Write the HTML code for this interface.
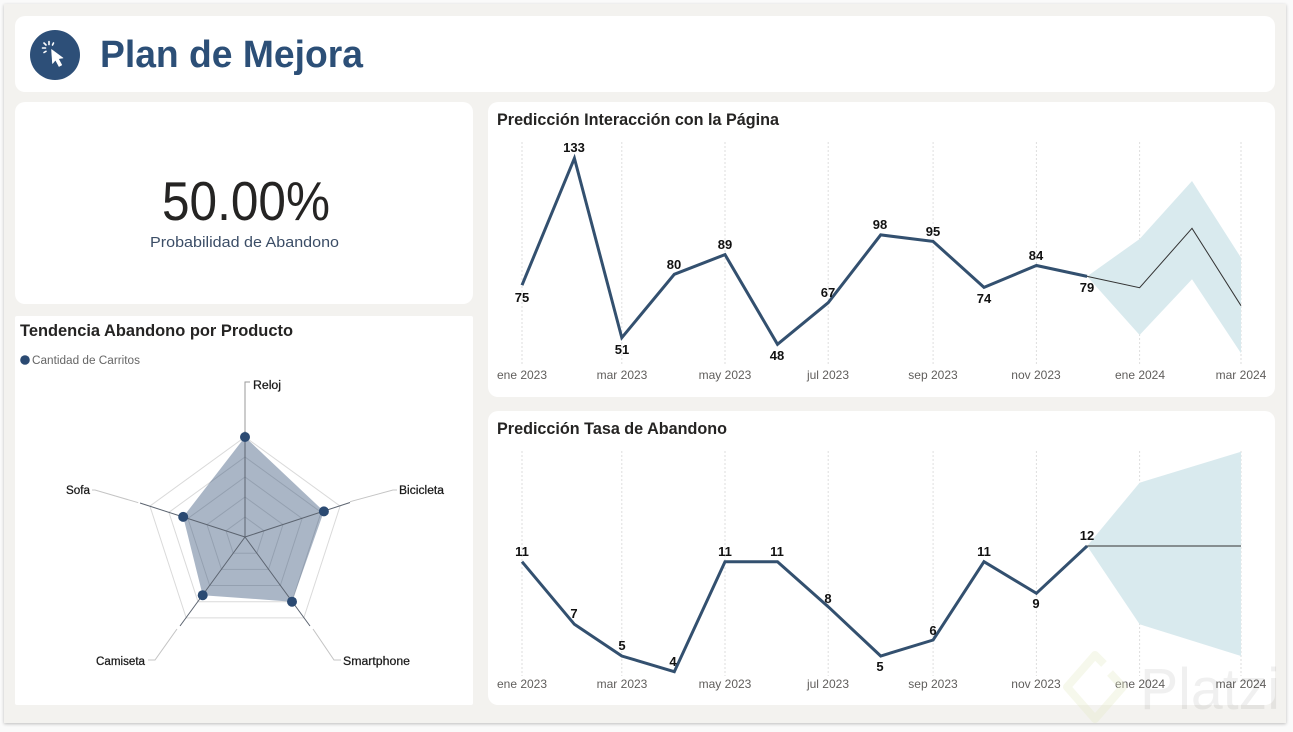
<!DOCTYPE html>
<html>
<head>
<meta charset="utf-8">
<style>
  html,body{margin:0;padding:0;background:#fafafa;}
  svg{display:block;}
  text{font-family:"Liberation Sans",sans-serif;}
</style>
</head>
<body>
<svg width="1293" height="732" viewBox="0 0 1293 732" xmlns="http://www.w3.org/2000/svg">
  <defs>
    <filter id="sh" x="-2%" y="-2%" width="104%" height="104%">
      <feGaussianBlur in="SourceAlpha" stdDeviation="1.5"/>
      <feOffset dx="0" dy="1"/>
      <feComponentTransfer><feFuncA type="linear" slope="0.25"/></feComponentTransfer>
      <feMerge><feMergeNode/><feMergeNode in="SourceGraphic"/></feMerge>
    </filter>
  </defs>
  <rect x="0" y="0" width="1293" height="732" fill="#fafafa"/>
  <!-- outer frame -->
  <rect x="4" y="4" width="1282" height="719" fill="#f3f2ef" filter="url(#sh)"/>

  <!-- header card -->
  <rect x="15" y="16" width="1260" height="76" rx="10" fill="#ffffff"/>
  <circle cx="55" cy="55" r="25" fill="#2d4f78"/>
  <!-- cursor icon -->
  <g fill="#ffffff" stroke="#ffffff">
    <path d="M51.5,49.5 L52.5,63.5 L55.5,60 L59,66.5 L61.8,65 L58.4,58.7 L63,58 Z" stroke-width="0.6" stroke-linejoin="round"/>
    <g stroke-width="1.6" stroke-linecap="round" fill="none">
      <line x1="49" y1="41.5" x2="49" y2="44.5"/>
      <line x1="42.5" y1="48" x2="45.5" y2="48"/>
      <line x1="44" y1="43" x2="46" y2="45"/>
      <line x1="53.5" y1="43" x2="52.5" y2="45"/>
      <line x1="44" y1="52.5" x2="46" y2="51.3"/>
    </g>
  </g>
  <text x="100" y="67" font-size="38" font-weight="bold" fill="#2c4f77" textLength="263" lengthAdjust="spacingAndGlyphs">Plan de Mejora</text>

  <!-- KPI card -->
  <rect x="15" y="102" width="458" height="202" rx="10" fill="#ffffff"/>
  <text x="162" y="220" font-size="55" fill="#252423" textLength="168" lengthAdjust="spacingAndGlyphs" style="font-family:'Liberation Sans Narrow','Liberation Sans',sans-serif">50.00%</text>
  <text x="150" y="247" font-size="15" fill="#3b4d66" textLength="189" lengthAdjust="spacingAndGlyphs">Probabilidad de Abandono</text>

  <!-- Radar card -->
  <rect x="15" y="316" width="458" height="389" rx="2" fill="#ffffff"/>
  <text x="20" y="336" font-size="17" font-weight="bold" fill="#252423" textLength="273" lengthAdjust="spacingAndGlyphs">Tendencia Abandono por Producto</text>
  <circle cx="25" cy="360" r="4.8" fill="#2b4a72"/>
  <text x="32" y="364" font-size="11.5" fill="#666666" textLength="108" lengthAdjust="spacingAndGlyphs">Cantidad de Carritos</text>

  <!-- radar grid rings (r=20..100) -->
  <g fill="none" stroke="#dadada" stroke-width="1">
    <polygon points="245,437 340.1,506.1 303.8,617.9 186.2,617.9 149.9,506.1"/>
    <polygon points="245,457 321.1,512.3 292.0,601.7 198.0,601.7 168.9,512.3"/>
    <polygon points="245,477 302.1,518.5 280.3,585.5 209.7,585.5 187.9,518.5"/>
    <polygon points="245,497 283.0,524.6 268.5,569.4 221.5,569.4 207.0,524.6"/>
    <polygon points="245,517 264.0,530.8 256.8,553.2 233.2,553.2 226.0,530.8"/>
  </g>
  <!-- connectors -->
  <g fill="none" stroke="#c4c4c4" stroke-width="1">
    <polyline points="350,501.7 393,490 397,490"/>
    <polyline points="138.3,502.7 95,490 92,490"/>
    <polyline points="177,629 155,660 148,660"/>
    <polyline points="313,629 334,660 341,660"/>
  </g>
  <polyline points="245,431 245,382 250,382" fill="none" stroke="#9a9a9a" stroke-width="1"/>
  <!-- data fill -->
  <polygon points="245,437 323.9,511.4 292.0,601.7 202.7,595.2 183.2,516.9" fill="#345078" fill-opacity="0.42"/>
  <!-- axes -->
  <g stroke="#5c6470" stroke-width="1">
    <line x1="245" y1="537" x2="245" y2="431"/>
    <line x1="245" y1="537" x2="350" y2="502.5"/>
    <line x1="245" y1="537" x2="310" y2="626"/>
    <line x1="245" y1="537" x2="180" y2="626"/>
    <line x1="245" y1="537" x2="140" y2="503"/>
  </g>
  <g fill="#2b4a72">
    <circle cx="245" cy="437" r="5"/>
    <circle cx="323.9" cy="511.4" r="5"/>
    <circle cx="292" cy="601.7" r="5"/>
    <circle cx="202.7" cy="595.2" r="5"/>
    <circle cx="183.2" cy="516.9" r="5"/>
  </g>
  <g font-size="11.5" fill="#1a1a1a" stroke="#1a1a1a" stroke-width="0.25">
    <text x="253" y="389" textLength="28" lengthAdjust="spacingAndGlyphs">Reloj</text>
    <text x="399" y="494" textLength="45" lengthAdjust="spacingAndGlyphs">Bicicleta</text>
    <text x="343" y="665" textLength="67" lengthAdjust="spacingAndGlyphs">Smartphone</text>
    <text x="96" y="665" textLength="49" lengthAdjust="spacingAndGlyphs">Camiseta</text>
    <text x="66" y="494" textLength="24" lengthAdjust="spacingAndGlyphs">Sofa</text>
  </g>

  <!-- Chart 1 card -->
  <rect x="488" y="102" width="787" height="295" rx="10" fill="#ffffff"/>
  <text x="497" y="125" font-size="17" font-weight="bold" fill="#252423" textLength="282" lengthAdjust="spacingAndGlyphs">Predicción Interacción con la Página</text>
  <g stroke="#dedede" stroke-width="1" stroke-dasharray="2,2">
    <line x1="522" y1="142" x2="522" y2="365"/>
    <line x1="621.8" y1="142" x2="621.8" y2="365"/>
    <line x1="725" y1="142" x2="725" y2="365"/>
    <line x1="828.2" y1="142" x2="828.2" y2="365"/>
    <line x1="933.1" y1="142" x2="933.1" y2="365"/>
    <line x1="1036.4" y1="142" x2="1036.4" y2="365"/>
    <line x1="1139.6" y1="142" x2="1139.6" y2="365"/>
    <line x1="1241" y1="142" x2="1241" y2="365"/>
  </g>
  <polygon points="1087.1,276.4 1139.6,239 1192,181 1241,257.7 1241,353.3 1192,279.3 1139.6,335" fill="#d9eaee"/>
  <polyline points="1087.1,276.4 1139.6,287.7 1192,228.3 1241,305.7" fill="none" stroke="#333333" stroke-width="1"/>
  <polyline points="522,285.2 574.4,158.3 621.8,337.7 674.3,274.3 725,254.6 777.5,344.3 828.2,302.7 880.7,234.9 933.1,241.4 984,287.4 1036.4,265.5 1087.1,276.4" fill="none" stroke="#33506f" stroke-width="3" stroke-linejoin="miter"/>
  <g font-size="13" font-weight="bold" fill="#111111" text-anchor="middle">
    <text x="522" y="302">75</text>
    <text x="574" y="152">133</text>
    <text x="622" y="354">51</text>
    <text x="674" y="269">80</text>
    <text x="725" y="249">89</text>
    <text x="777" y="360">48</text>
    <text x="828" y="297">67</text>
    <text x="880" y="229">98</text>
    <text x="933" y="236">95</text>
    <text x="984" y="303">74</text>
    <text x="1036" y="260">84</text>
    <text x="1087" y="292">79</text>
  </g>
  <g font-size="12" fill="#605e5c" text-anchor="middle">
    <text x="522" y="379">ene 2023</text>
    <text x="622" y="379">mar 2023</text>
    <text x="725" y="379">may 2023</text>
    <text x="828" y="379">jul 2023</text>
    <text x="933" y="379">sep 2023</text>
    <text x="1036" y="379">nov 2023</text>
    <text x="1140" y="379">ene 2024</text>
    <text x="1241" y="379">mar 2024</text>
  </g>

  <!-- Chart 2 card -->
  <rect x="488" y="411" width="787" height="294" rx="10" fill="#ffffff"/>
  <text x="497" y="434" font-size="17" font-weight="bold" fill="#252423" textLength="230" lengthAdjust="spacingAndGlyphs">Predicción Tasa de Abandono</text>
  <g stroke="#dedede" stroke-width="1" stroke-dasharray="2,2">
    <line x1="522" y1="451" x2="522" y2="676"/>
    <line x1="621.8" y1="451" x2="621.8" y2="676"/>
    <line x1="725" y1="451" x2="725" y2="676"/>
    <line x1="828.2" y1="451" x2="828.2" y2="676"/>
    <line x1="933.1" y1="451" x2="933.1" y2="676"/>
    <line x1="1036.4" y1="451" x2="1036.4" y2="676"/>
    <line x1="1139.6" y1="451" x2="1139.6" y2="676"/>
    <line x1="1241" y1="451" x2="1241" y2="676"/>
  </g>
  <polygon points="1087.1,546 1139.6,482.7 1241,451.7 1241,656 1139.6,624.3" fill="#d9eaee"/>
  <line x1="1087.1" y1="546" x2="1241" y2="546" stroke="#333333" stroke-width="1"/>
  <polyline points="522,561.7 574.4,624.3 621.8,656 674.3,671.7 725,561.7 777.5,561.7 828.2,606.7 880.7,656 933.1,640 984,561.7 1036.4,593.3 1087.1,546" fill="none" stroke="#33506f" stroke-width="3" stroke-linejoin="miter"/>
  <g font-size="13" font-weight="bold" fill="#111111" text-anchor="middle">
    <text x="522" y="556">11</text>
    <text x="574" y="618">7</text>
    <text x="622" y="650">5</text>
    <text x="673" y="666">4</text>
    <text x="725" y="556">11</text>
    <text x="777" y="556">11</text>
    <text x="828" y="603">8</text>
    <text x="880" y="671">5</text>
    <text x="933" y="635">6</text>
    <text x="984" y="556">11</text>
    <text x="1036" y="608">9</text>
    <text x="1087" y="540">12</text>
  </g>
  <g font-size="12" fill="#605e5c" text-anchor="middle">
    <text x="522" y="688">ene 2023</text>
    <text x="622" y="688">mar 2023</text>
    <text x="725" y="688">may 2023</text>
    <text x="828" y="688">jul 2023</text>
    <text x="933" y="688">sep 2023</text>
    <text x="1036" y="688">nov 2023</text>
    <text x="1140" y="688">ene 2024</text>
    <text x="1241" y="688">mar 2024</text>
  </g>

  <!-- watermark -->
  <g opacity="0.35">
    <path d="M1104,664 L1095,655 L1067,687 L1095,719 L1123,687 L1110,673" fill="none" stroke="#e4ecc9" stroke-width="8" stroke-linejoin="round"/>
  </g>
  <text x="1140" y="709" font-size="58" fill="#000000" fill-opacity="0.06" textLength="140" lengthAdjust="spacingAndGlyphs">Platzi</text>
</svg>
</body>
</html>
